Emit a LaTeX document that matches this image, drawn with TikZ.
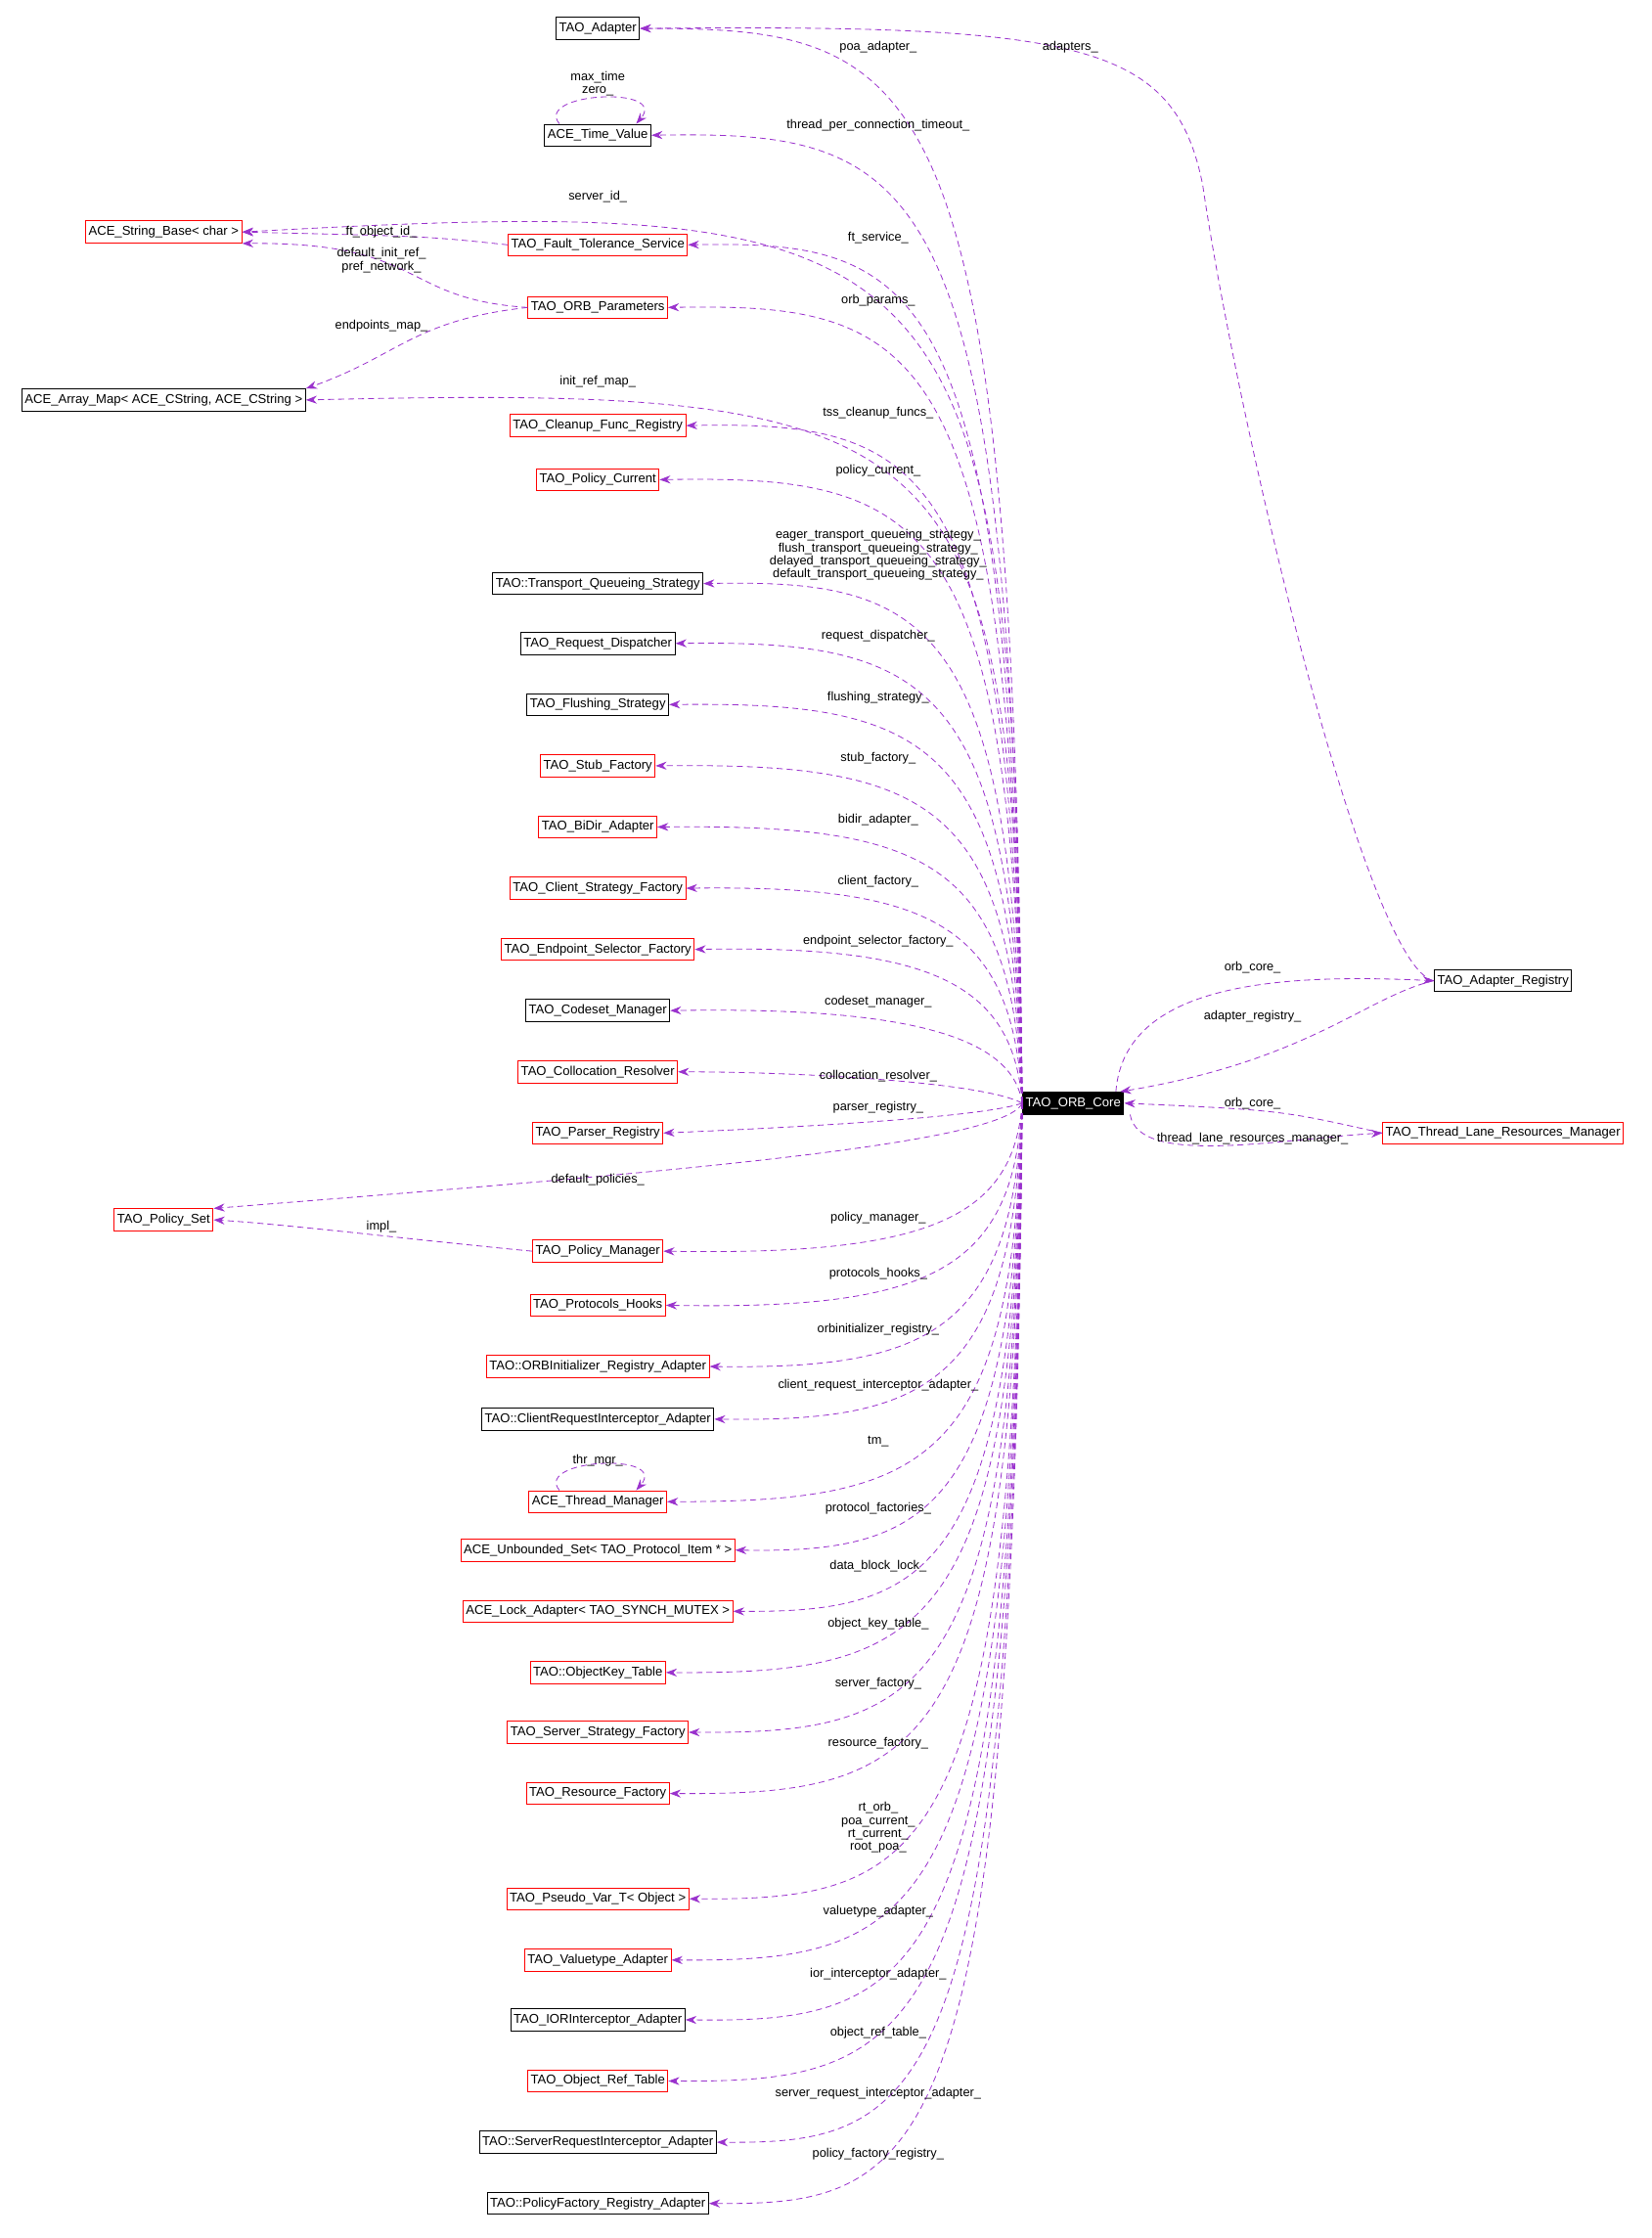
\documentclass[tikz,border=0pt]{standalone}
\usepackage{fontspec}
\setmainfont{Liberation Sans}
\usetikzlibrary{arrows.meta,calc}
\definecolor{vio}{HTML}{9A32CD}
\tikzset{
 bx/.style={draw=black,line width=0.9pt,inner sep=3pt,minimum height=22pt,font=\fontsize{12.8}{14}\selectfont,fill=white},
 rbx/.style={bx,draw=red},
 e/.style={draw=vio,line width=0.8pt,dash pattern=on 6pt off 4pt,-{Stealth[length=11pt,width=8pt]}},
 lb/.style={font=\fontsize{12.5}{13}\selectfont,align=center,inner sep=1pt}
}
\begin{document}
\begin{tikzpicture}[x=0.05cm,y=-0.05cm]
\useasboundingbox (0,0) rectangle (1160,1572.3);
% nodes
\node[bx] (ta) at (420,20) {TAO\_Adapter};
\node[bx] (atv) at (420,95) {ACE\_Time\_Value};
\node[rbx] (sb) at (115,163) {ACE\_String\_Base< char >};
\node[rbx] (ft) at (420,172) {TAO\_Fault\_Tolerance\_Service};
\node[rbx] (op) at (420,216) {TAO\_ORB\_Parameters};
\node[bx] (am) at (115,281) {ACE\_Array\_Map< ACE\_CString, ACE\_CString >};
\node[rbx] (n1) at (420,299) {TAO\_Cleanup\_Func\_Registry};
\node[rbx] (n2) at (420,337) {TAO\_Policy\_Current};
\node[bx] (n3) at (420,410) {TAO::Transport\_Queueing\_Strategy};
\node[bx] (n4) at (420,452) {TAO\_Request\_Dispatcher};
\node[bx] (n5) at (420,495) {TAO\_Flushing\_Strategy};
\node[rbx] (n6) at (420,538) {TAO\_Stub\_Factory};
\node[rbx] (n7) at (420,581) {TAO\_BiDir\_Adapter};
\node[rbx] (n8) at (420,624) {TAO\_Client\_Strategy\_Factory};
\node[rbx] (n9) at (420,667) {TAO\_Endpoint\_Selector\_Factory};
\node[bx] (n10) at (420,710) {TAO\_Codeset\_Manager};
\node[rbx] (n11) at (420,753) {TAO\_Collocation\_Resolver};
\node[rbx] (n12) at (420,796) {TAO\_Parser\_Registry};
\node[rbx] (ps) at (115,857) {TAO\_Policy\_Set};
\node[rbx] (pm) at (420,879) {TAO\_Policy\_Manager};
\node[rbx] (n13) at (420,917) {TAO\_Protocols\_Hooks};
\node[rbx] (n14) at (420,960) {TAO::ORBInitializer\_Registry\_Adapter};
\node[bx] (n15) at (420,997) {TAO::ClientRequestInterceptor\_Adapter};
\node[rbx] (tm) at (420,1055) {ACE\_Thread\_Manager};
\node[rbx] (n16) at (420,1089) {ACE\_Unbounded\_Set< TAO\_Protocol\_Item * >};
\node[rbx] (n17) at (420,1132) {ACE\_Lock\_Adapter< TAO\_SYNCH\_MUTEX >};
\node[rbx] (n18) at (420,1175) {TAO::ObjectKey\_Table};
\node[rbx] (n19) at (420,1217) {TAO\_Server\_Strategy\_Factory};
\node[rbx] (n20) at (420,1260) {TAO\_Resource\_Factory};
\node[rbx] (n21) at (420,1334) {TAO\_Pseudo\_Var\_T< Object >};
\node[rbx] (n22) at (420,1377) {TAO\_Valuetype\_Adapter};
\node[bx] (n23) at (420,1419) {TAO\_IORInterceptor\_Adapter};
\node[rbx] (n24) at (420,1462) {TAO\_Object\_Ref\_Table};
\node[bx] (n25) at (420,1505) {TAO::ServerRequestInterceptor\_Adapter};
\node[bx] (n26) at (420,1548) {TAO::PolicyFactory\_Registry\_Adapter};
\node[bx,fill=black,text=white] (core) at (754,775) {TAO\_ORB\_Core};
\node[bx] (reg) at (1056,689) {TAO\_Adapter\_Registry};
\node[rbx] (tl) at (1056,796) {TAO\_Thread\_Lane\_Resources\_Manager};
% core to right column
\foreach \t/\y in {ta/20,atv/92,ft/169,op/213,n1/296,n2/334,n3/407,n4/450,n5/493,n6/536,n7/579,n8/622,n9/664,n10/707}{
 \draw[e] (core.west) .. controls (712,\y+25) and (650,\y) .. (\t.east);}
\draw[e] (core.west) .. controls (690,760) and (560,753) .. (n11.east);
\draw[e] (core.west) .. controls (690,785) and (560,792) .. (n12.east);
\foreach \t/\y in {pm/882,n13/920,n14/962,n15/999,tm/1055,n16/1091,n17/1133,n18/1176,n19/1218,n20/1261,n21/1335,n22/1378,n23/1421,n24/1463,n25/1506,n26/1549}{
 \draw[e] (core.west) .. controls (712,\y-25) and (650,\y) .. (\t.east);}
\draw[e] (core.west) .. controls (712,160) and (680,135) .. (sb.east);
\draw[e] (core.west) .. controls (712,300) and (680,270) .. (am.east);
\draw[e] (core.west) .. controls (705,805) and (450,825) .. (ps.north east);
% left edges
\draw[e] (ft.west) .. controls (300,166) .. (sb.east);
\draw[e] (op.west) .. controls (280,210) and (300,170) .. (sb.south east);
\draw[e] (op.west) .. controls (290,225) and (280,250) .. (am.north east);
\draw[e] (pm.west) .. controls (300,872) and (200,860) .. (ps.east);
% self loops
\draw[e] ($(atv.north)+(-27,0)$) .. controls (375,65) and (470,60) .. ($(atv.north)+(27,0)$);
\draw[e] ($(tm.north)+(-27,0)$) .. controls (375,1025) and (470,1020) .. ($(tm.north)+(27,0)$);
% right side
\draw[e] (reg.west) .. controls (960,680) and (870,300) .. (845,130) .. controls (825,30) and (760,17) .. (ta.east);
\draw[e] ($(core.north)+(30,0)$) .. controls (790,690) and (900,684) .. (reg.west);
\draw[e] (reg.west) .. controls (960,700) and (920,745) .. ($(core.north)+(33,0)$);
\draw[e] (tl.west) .. controls (900,780) .. (core.east);
\draw[e] ($(core.south)+(40,0)$) .. controls (800,820) and (900,800) .. (tl.west);
% labels
\node[lb] (l1) at (617,33) {poa\_adapter\_};
\node[lb] (l2) at (752,33) {adapters\_};
\node[lb] (l3) at (420,59) {max\_time\\zero\_};
\node[lb] (l4) at (617,88) {thread\_per\_connection\_timeout\_};
\node[lb] (l5) at (420,138) {server\_id\_};
\node[lb] (l6) at (268,163) {ft\_object\_id\_};
\node[lb] (l7) at (617,167) {ft\_service\_};
\node[lb] (l8) at (268,183) {default\_init\_ref\_\\pref\_network\_};
\node[lb] (l9) at (617,211) {orb\_params\_};
\node[lb] (l10) at (268,229) {endpoints\_map\_};
\node[lb] (l11) at (420,268) {init\_ref\_map\_};
\node[lb] (l12) at (617,290) {tss\_cleanup\_funcs\_};
\node[lb] (l13) at (617,331) {policy\_current\_};
\node[lb] (l14) at (617,390) {eager\_transport\_queueing\_strategy\_\\flush\_transport\_queueing\_strategy\_\\delayed\_transport\_queueing\_strategy\_\\default\_transport\_queueing\_strategy\_};
\node[lb] (l15) at (617,447) {request\_dispatcher\_};
\node[lb] (l16) at (617,490) {flushing\_strategy\_};
\node[lb] (l17) at (617,533) {stub\_factory\_};
\node[lb] (l18) at (617,576) {bidir\_adapter\_};
\node[lb] (l19) at (617,619) {client\_factory\_};
\node[lb] (l20) at (617,661) {endpoint\_selector\_factory\_};
\node[lb] (l21) at (617,704) {codeset\_manager\_};
\node[lb] (l22) at (617,756) {collocation\_resolver\_};
\node[lb] (l23) at (617,778) {parser\_registry\_};
\node[lb] (l24) at (420,829) {default\_policies\_};
\node[lb] (l25) at (268,862) {impl\_};
\node[lb] (l26) at (617,856) {policy\_manager\_};
\node[lb] (l27) at (617,895) {protocols\_hooks\_};
\node[lb] (l28) at (617,934) {orbinitializer\_registry\_};
\node[lb] (l29) at (617,973) {client\_request\_interceptor\_adapter\_};
\node[lb] (l30) at (617,1013) {tm\_};
\node[lb] (l31) at (420,1026) {thr\_mgr\_};
\node[lb] (l32) at (617,1060) {protocol\_factories\_};
\node[lb] (l33) at (617,1100) {data\_block\_lock\_};
\node[lb] (l34) at (617,1141) {object\_key\_table\_};
\node[lb] (l35) at (617,1183) {server\_factory\_};
\node[lb] (l36) at (617,1225) {resource\_factory\_};
\node[lb] (l37) at (617,1284) {rt\_orb\_\\poa\_current\_\\rt\_current\_\\root\_poa\_};
\node[lb] (l38) at (617,1343) {valuetype\_adapter\_};
\node[lb] (l39) at (617,1387) {ior\_interceptor\_adapter\_};
\node[lb] (l40) at (617,1428) {object\_ref\_table\_};
\node[lb] (l41) at (617,1471) {server\_request\_interceptor\_adapter\_};
\node[lb] (l42) at (617,1513) {policy\_factory\_registry\_};
\node[lb] (l43) at (880,680) {orb\_core\_};
\node[lb] (l44) at (880,714) {adapter\_registry\_};
\node[lb] (l45) at (880,775) {orb\_core\_};
\node[lb] (l46) at (880,800) {thread\_lane\_resources\_manager\_};
\end{tikzpicture}
\end{document}
